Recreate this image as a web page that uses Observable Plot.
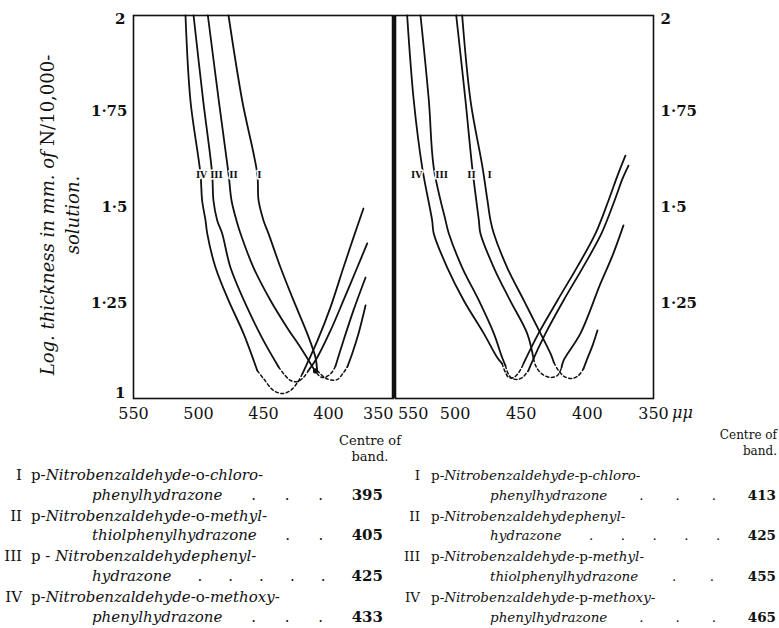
<!DOCTYPE html>
<html>
<head>
<meta charset="utf-8">
<script src="https://cdn.jsdelivr.net/npm/d3@7"></script>
<script src="https://cdn.jsdelivr.net/npm/@observablehq/plot@0.6"></script>
<style>
  html, body { margin: 0; padding: 0; background: #fff; }
  #wrap { position: relative; width: 779px; height: 628px; overflow: hidden; font-family: "DejaVu Serif", serif; color: #111; }
  #wrap svg { position: absolute; top: 0; }
  .ytitle { position: absolute; left: 60px; top: 215px; transform: translate(-50%, -50%) rotate(-90deg); text-align: center; white-space: nowrap; font-size: 18px; line-height: 25px; font-style: italic; }
  .ytitle .r { font-style: normal; }
  .unit { position: absolute; left: 672px; top: 403px; font-size: 16px; font-style: italic; }
  .hdr { position: absolute; white-space: nowrap; }
  .num { position: absolute; text-align: right; white-space: nowrap; line-height: 20px; }
  .l1 { position: absolute; white-space: nowrap; line-height: 20px; }
  .l2 { position: absolute; display: flex; justify-content: space-between; white-space: nowrap; line-height: 20px; }
  .l2 b { font-weight: bold; }
  .colL { font-size: 15px; }
  .colR { font-size: 13.5px; }
</style>
</head>
<body>
<div id="wrap"></div>
<script>
// ---------------- data ----------------
const xTicks = [550, 500, 450, 400, 350];
const yTicks = [1, 1.25, 1.5, 1.75, 2];
const yTickLabels = ["1", "1·25", "1·5", "1·75", "2"];
const yTicksRight = [1.25, 1.5, 1.75, 2];
const curveNames = ["I", "II", "III", "IV"];

// Left panel (o-substituted / series A): [wavelength μμ, log thickness]
const A_I_desc = [[476.9,2.0],[466.4,1.778],[454.8,1.587],[453.8,1.517],[450,1.465],[446.2,1.431],[436.9,1.342],[426.9,1.256],[416.4,1.170],[410,1.107],[408.7,1.073]];
const A_I_dip  = [[408.7,1.073],[403,1.055],[398,1.048],[393,1.05],[389,1.065],[385.6,1.082]];
const A_I_rise = [[385.6,1.082],[381.8,1.117],[376.9,1.170],[371.5,1.243]];

const A_II_desc = [[492.8,2.0],[484.4,1.778],[476.9,1.587],[474.6,1.517],[470.8,1.465],[467.7,1.431],[457.7,1.342],[444.6,1.256],[431.8,1.185],[421.5,1.133],[411.5,1.078]];
const A_II_dip  = [[411.5,1.078],[408,1.062],[405,1.055],[401,1.058],[397,1.07],[394.6,1.085]];
const A_II_rise = [[394.6,1.085],[388.5,1.151],[380.8,1.23],[371.5,1.316]];

const A_III_desc = [[503.8,2.0],[496.4,1.778],[489.5,1.587],[488.5,1.517],[485.6,1.465],[481.8,1.431],[475.4,1.342],[462.5,1.237],[450,1.151],[438.5,1.083]];
const A_III_dip  = [[438.5,1.083],[434.6,1.065],[429.2,1.047],[424.1,1.044],[419.2,1.055],[415.4,1.073]];
const A_III_rise = [[415.4,1.073],[408.7,1.107],[398.5,1.177],[388.5,1.256],[377.9,1.342],[370.2,1.405]];

const A_IV_desc = [[510,2.0],[506.2,1.778],[498.5,1.587],[497.2,1.517],[494.6,1.465],[493.3,1.431],[486.9,1.342],[476.9,1.256],[465.4,1.170],[454.8,1.073]];
const A_IV_dip  = [[454.8,1.073],[450,1.052],[442.3,1.021],[435.4,1.013],[429.2,1.021],[423.8,1.042],[420,1.065]];
const A_IV_rise = [[420,1.065],[415.4,1.099],[408.5,1.151],[398.5,1.238],[388.5,1.342],[380.8,1.420],[373.1,1.496]];

const A_labelX = [453.1, 473.1, 486.2, 497.7];
const A_blot = [[410, 1.072]];

// Right panel (p-substituted / series B)
const B_I_desc = [[494.6,2.0],[488.3,1.778],[479.2,1.603],[475.5,1.517],[473.2,1.465],[470.7,1.431],[460.6,1.342],[448,1.256],[435.4,1.170],[427.8,1.117],[425.3,1.094]];
const B_I_dip  = [[425.3,1.094],[421.8,1.073],[417.3,1.057],[412,1.052],[406.7,1.060],[402.9,1.078]];
const B_I_rise = [[402.9,1.078],[400.6,1.099],[396.1,1.138],[392.3,1.178]];

const B_II_desc = [[499.1,2.0],[492.1,1.778],[487,1.603],[482,1.465],[480.8,1.431],[470.7,1.342],[458.4,1.256],[445.5,1.170],[440.7,1.104]];
const B_II_dip  = [[440.7,1.104],[438.4,1.081],[433.9,1.063],[427.8,1.055],[422.6,1.060],[419.5,1.081]];
const B_II_rise = [[419.5,1.081],[418,1.099],[405.2,1.170],[390.1,1.30],[381,1.373],[372.7,1.452]];

const B_III_desc = [[526.1,2.0],[519.8,1.778],[516.1,1.603],[507.2,1.465],[504.7,1.431],[494.6,1.342],[482,1.256],[470.7,1.170],[464.4,1.107],[461.9,1.086]];
const B_III_dip  = [[461.9,1.086],[459.6,1.063],[456.6,1.052],[452.8,1.050],[449,1.055],[444.5,1.073]];
const B_III_rise = [[444.5,1.073],[443,1.086],[431.6,1.170],[418,1.256],[402.9,1.345],[389.3,1.431],[379.4,1.517],[373.4,1.574],[368.9,1.608]];

const B_IV_desc = [[536.2,2.0],[531.2,1.778],[524.8,1.603],[517.3,1.465],[516.1,1.431],[505.9,1.342],[493.4,1.256],[478.3,1.170],[468.1,1.107],[464.4,1.091]];
const B_IV_dip  = [[464.4,1.091],[461.9,1.068],[459.4,1.055],[455.6,1.055],[451.8,1.068],[448.3,1.091]];
const B_IV_rise = [[448.3,1.091],[436.9,1.170],[422.6,1.256],[407.4,1.345],[393.8,1.431],[384,1.517],[377.2,1.582],[371.2,1.634]];

const B_labelX = [473.9, 487.6, 510.2, 529.1];
const labelY = 1.582;

// Legend text
const legendA_line1 = [
  'p-<i>Nitrobenzaldehyde</i>-o-<i>chloro</i>-',
  'p-<i>Nitrobenzaldehyde</i>-o-<i>methyl</i>-',
  'p - <i>Nitrobenzaldehydephenyl</i>-',
  'p-<i>Nitrobenzaldehyde</i>-o-<i>methoxy</i>-'
];
const legendA_line2 = ['<i>phenylhydrazone</i>', '<i>thiolphenylhydrazone</i>', '<i>hydrazone</i>', '<i>phenylhydrazone</i>'];
const legendA_dots = [3, 2, 5, 3];
const legendA_centre = [395, 405, 425, 433];

const legendB_line1 = [
  'p-<i>Nitrobenzaldehyde</i>-p-<i>chloro</i>-',
  'p-<i>Nitrobenzaldehydephenyl</i>-',
  'p-<i>Nitrobenzaldehyde</i>-p-<i>methyl</i>-',
  'p-<i>Nitrobenzaldehyde</i>-p-<i>methoxy</i>-'
];
const legendB_line2 = ['<i>phenylhydrazone</i>', '<i>hydrazone</i>', '<i>thiolphenylhydrazone</i>', '<i>phenylhydrazone</i>'];
const legendB_dots = [3, 5, 2, 3];
const legendB_centre = [413, 425, 455, 465];

// ---------------- build ----------------
const wrap = document.getElementById("wrap");
const toRows = (pts, curve, seg) => pts.map(([wl, v]) => ({wl, v, curve, seg, key: curve + "-" + seg}));
function panelRows(sets) {
  const rows = [];
  sets.forEach(([name, d, m, r]) => {
    rows.push(...toRows(d, name, "desc"), ...toRows(m, name, "dip"), ...toRows(r, name, "rise"));
  });
  return rows;
}
const rowsA = panelRows([["I", A_I_desc, A_I_dip, A_I_rise], ["II", A_II_desc, A_II_dip, A_II_rise], ["III", A_III_desc, A_III_dip, A_III_rise], ["IV", A_IV_desc, A_IV_dip, A_IV_rise]]);
const rowsB = panelRows([["I", B_I_desc, B_I_dip, B_I_rise], ["II", B_II_desc, B_II_dip, B_II_rise], ["III", B_III_desc, B_III_dip, B_III_rise], ["IV", B_IV_desc, B_IV_dip, B_IV_rise]]);
const labelsA = curveNames.map((t, i) => ({t, wl: A_labelX[i], v: labelY}));
const labelsB = curveNames.map((t, i) => ({t, wl: B_labelX[i], v: labelY}));
const yFmt = d => yTickLabels[yTicks.indexOf(d)];
const svgStyle = {fontFamily: "'DejaVu Serif', serif", fontSize: "16px", background: "transparent", overflow: "visible", color: "#111"};
const ink = "#111";

function curveMarks(rows, labels) {
  return [
    Plot.line(rows.filter(d => d.seg !== "dip"), {x: "wl", y: "v", z: "key", stroke: ink, strokeWidth: 1.8, curve: "catmull-rom"}),
    Plot.line(rows.filter(d => d.seg === "dip"), {x: "wl", y: "v", z: "key", stroke: ink, strokeWidth: 1.5, strokeDasharray: "3,2.6", curve: "catmull-rom"}),
    Plot.text(labels, {x: "wl", y: "v", text: "t", fontSize: 9, fontWeight: "bold", fill: ink, stroke: "white", strokeWidth: 3, paintOrder: "stroke"})
  ];
}
const yAxisOpts = {tickSize: 0, tickFormat: yFmt, fontWeight: "bold", fontSize: 15, label: null};
const xAxisOpts = {anchor: "bottom", tickSize: 0, tickPadding: 9, fontSize: 16, label: null};

const left = Plot.plot({
  width: 394, height: 430,
  marginLeft: 133, marginRight: 1, marginTop: 15, marginBottom: 32,
  x: {domain: [550, 350], label: null},
  y: {domain: [1, 2], label: null},
  style: svgStyle,
  marks: [
    ...curveMarks(rowsA, labelsA),
    Plot.dot(A_blot, {x: d => d[0], y: d => d[1], r: 2.6, fill: ink}),
    Plot.frame({stroke: ink, strokeWidth: 1.6}),
    Plot.ruleX([350], {stroke: ink, strokeWidth: 3.5}),
    Plot.axisY(yTicks.slice(1, 4), {...yAxisOpts, anchor: "left", tickPadding: 6}),
    Plot.axisY(yTicks.slice(0, 1), {...yAxisOpts, anchor: "left", tickPadding: 8, dy: -5}),
    Plot.axisY(yTicks.slice(4), {...yAxisOpts, anchor: "left", tickPadding: 8, dy: 4}),
    Plot.axisX(xTicks.slice(0, 4), xAxisOpts),
    Plot.axisX(xTicks.slice(4), {...xAxisOpts, textAnchor: "end"})
  ]
});
left.style.left = "0px";

const right = Plot.plot({
  width: 385, height: 430,
  marginLeft: 1, marginRight: 126, marginTop: 15, marginBottom: 32,
  x: {domain: [545, 350], label: null},
  y: {domain: [1, 2], label: null},
  style: svgStyle,
  marks: [
    ...curveMarks(rowsB, labelsB),
    Plot.frame({stroke: ink, strokeWidth: 1.6}),
    Plot.axisY(yTicksRight.slice(0, 3), {...yAxisOpts, anchor: "right", tickPadding: 7}),
    Plot.axisY(yTicksRight.slice(3), {...yAxisOpts, anchor: "right", tickPadding: 7, dy: 4}),
    Plot.axisX(xTicks.slice(0, 1), {...xAxisOpts, textAnchor: "start", dx: 9}),
    Plot.axisX(xTicks.slice(1), xAxisOpts)
  ]
});
right.style.left = "394px";

wrap.appendChild(left);
wrap.appendChild(right);

function addDiv(cls, html, css) {
  const d = document.createElement("div");
  d.className = cls;
  d.innerHTML = html;
  Object.assign(d.style, css);
  wrap.appendChild(d);
  return d;
}
addDiv("ytitle", 'Log. thickness in mm. of <span class="r">N/10,000-</span><br>solution.', {});
addDiv("unit", "μμ", {});

// legend headers
addDiv("hdr", "Centre of", {left: "320px", width: "100px", textAlign: "center", top: "433px", fontSize: "13px", lineHeight: "16px"});
addDiv("hdr", "band.", {left: "320px", width: "100px", textAlign: "center", top: "449px", fontSize: "13px", lineHeight: "16px"});
addDiv("hdr", "Centre of", {right: "2px", textAlign: "right", top: "429px", fontSize: "12px", lineHeight: "13px"});
addDiv("hdr", "band.", {right: "2px", textAlign: "right", top: "445px", fontSize: "12px", lineHeight: "13px"});

function legendColumn(cls, line1, line2, dots, centres, geo) {
  line1.forEach((t, i) => {
    const y1 = 475 + i * 40.7, y2 = 494.5 + i * 40.7;
    addDiv("num " + cls, curveNames[i], {left: geo.numL + "px", width: geo.numW + "px", top: (y1 - 10) + "px"});
    addDiv("l1 " + cls, t, {left: geo.textL + "px", top: (y1 - 10) + "px"});
    const parts = [line2[i]];
    for (let k = 0; k < dots[i]; k++) parts.push(".");
    parts.push("<b>" + centres[i] + "</b>");
    addDiv("l2 " + cls, parts.map(p => "<span>" + p + "</span>").join(""), {left: geo.l2L + "px", width: geo.l2W + "px", top: (y2 - 10) + "px"});
  });
}
legendColumn("colL", legendA_line1, legendA_line2, legendA_dots, legendA_centre, {numL: 0, numW: 22, textL: 31, l2L: 92, l2W: 291});
legendColumn("colR", legendB_line1, legendB_line2, legendB_dots, legendB_centre, {numL: 380, numW: 40, textL: 431, l2L: 490, l2W: 286});
</script>
</body>
</html>
